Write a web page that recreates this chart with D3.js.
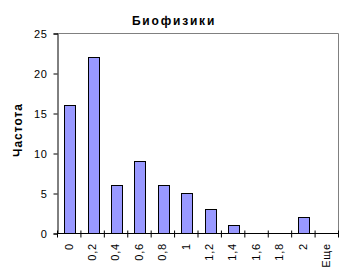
<html lang="ru">
<head>
<meta charset="utf-8">
<script src="https://d3js.org/d3.v7.min.js"></script>
<style>
  body { margin: 0; background: #fff; }
  text { font-family: Arial, 'Liberation Sans', sans-serif; fill: #000; }
</style>
</head>
<body>
<script>
// data
var categories = ["0", "0,2", "0,4", "0,6", "0,8", "1", "1,2", "1,4", "1,6", "1,8", "2", "Еще"]
var counts = [16, 22, 6, 9, 6, 5, 3, 1, 0, 0, 2, 0]
var yTicks = [0, 5, 10, 15, 20, 25]

var width = 348, height = 276
// plot area edges (don't call it "top", that's window.top)
var plotL = 57, plotR = 338, plotT = 33, plotB = 233

var svg = d3.select("body").append("svg")
    .attr("width", width)
    .attr("height", height)

var x = d3.scaleBand().domain(categories).range([plotL, plotR]).padding(0)
var xEdge = d3.scaleLinear().domain([0, categories.length]).range([plotL, plotR])
var y = d3.scaleLinear().domain([0, 25]).range([plotB, plotT])

// plot area frame (top and right gray)
svg.append("path")
    .attr("d", "M" + plotL + "," + (plotT + 0.5) + "H" + (plotR + 0.5) + "V" + plotB)
    .attr("fill", "none")
    .attr("stroke", "#808080")

// bars
var barW = Math.round(x.bandwidth() * 0.45)
var barData = categories.map(function(c, i) { return { cat: c, v: counts[i] } })
    .filter(function(d) { return d.v > 0 })

svg.selectAll("rect.bar")
    .data(barData)
    .enter().append("rect")
    .attr("class", "bar")
    .attr("x", function(d) { return Math.round(x(d.cat) + x.bandwidth() / 2 - barW / 2 + 1) + 0.5 })
    .attr("y", function(d) { return Math.round(y(d.v)) + 0.5 })
    .attr("width", barW)
    .attr("height", function(d) { return Math.round(plotB - y(d.v)) })
    .attr("fill", "#9999ff")
    .attr("stroke", "#000")

// y axis
var yAxis = svg.append("g")
    .attr("transform", "translate(" + (plotL + 0.5) + ",0.5)")
    .call(d3.axisLeft(y).tickValues(yTicks).tickSize(4).tickPadding(6))
yAxis.select(".domain").attr("stroke", "#000")
yAxis.selectAll("text")
    .attr("font-size", "11px")
    .attr("letter-spacing", "0.6px")
    .attr("font-family", "Arial, 'Liberation Sans', sans-serif")

// x axis (ticks at category edges, crossing the axis)
var xAxis = svg.append("g")
    .attr("transform", "translate(0," + (plotB + 0.5) + ")")
    .call(d3.axisBottom(xEdge).ticks(categories.length).tickSize(4).tickFormat(""))
xAxis.selectAll(".tick line").attr("y1", -3)
xAxis.select(".domain").attr("d", "M" + plotL + ",0H" + plotR)

// x labels, rotated
svg.selectAll("text.xl")
    .data(categories)
    .enter().append("text")
    .attr("class", "xl")
    .attr("transform", function(d) { return "translate(" + (x(d) + x.bandwidth() / 2) + ",243) rotate(-90)" })
    .attr("dy", "0.35em")
    .attr("text-anchor", "end")
    .attr("font-size", "11px")
    .attr("letter-spacing", "0.8px")
    .text(function(d) { return d })

// title
svg.append("text")
    .attr("x", 174)
    .attr("y", 25)
    .attr("text-anchor", "middle")
    .attr("font-size", "12px")
    .attr("font-weight", "bold")
    .attr("letter-spacing", "1.8px")
    .text("Биофизики")

// y label
svg.append("text")
    .attr("transform", "translate(22,130) rotate(-90)")
    .attr("text-anchor", "middle")
    .attr("font-size", "12px")
    .attr("font-weight", "bold")
    .attr("letter-spacing", "1px")
    .text("Частота")
</script>
</body>
</html>
